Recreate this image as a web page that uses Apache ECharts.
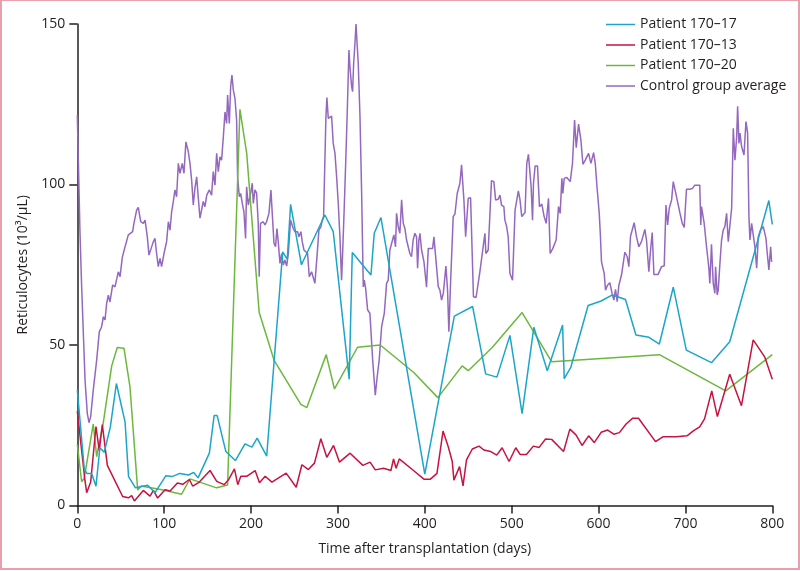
<!DOCTYPE html>
<html>
<head>
<meta charset="utf-8">
<script src="https://cdn.jsdelivr.net/npm/echarts@6/dist/echarts.min.js"></script>
<style>
html,body{margin:0;padding:0;background:#fff;}
#wrap{position:relative;width:800px;height:571px;}
#chart{position:absolute;left:0;top:0;width:800px;height:571px;}
#frame{position:absolute;left:0;top:0;width:800px;height:570px;box-sizing:border-box;border:2px solid #e8a0ae;border-top-width:1px;pointer-events:none;}
</style>
</head>
<body>
<div id="wrap"><div id="chart"></div><div id="frame"></div></div>
<script>
// ---- data ----
const seriesNames = ['Patient 170\u201317', 'Patient 170\u201313', 'Patient 170\u201320', 'Control group average'];
const xTicks = [0, 100, 200, 300, 400, 500, 600, 700, 800];
const yTicks = [0, 50, 100, 150];

const patient17 = [[0,36],[8,11.4],[11,10],[16.5,10],[21.5,6],[26,18],[31,16.6],[38,24.4],[45,38],[55,26],[59,9],[67,5.5],[81,6.3],[89.5,4],[102,9.3],[109,9],[118,10],[128,9.5],[134,10.3],[139,8.6],[152,16.3],[157.5,28],[161,28],[171,16.8],[182,14],[193,19.2],[201,18.2],[207,21],[218,15.4],[236.4,79],[241.7,76.7],[245.5,93.8],[258,75],[285,90.5],[294.6,85.3],[313,39.3],[316.5,78.8],[338,71.8],[341.8,84.8],[349.5,89.7],[400,9.8],[434,59],[455,62],[470,41],[483,40],[498,53],[512,28.6],[525.5,55.5],[541,42],[558.6,56.2],[560.5,39.5],[568,43],[588,62.3],[603,63.7],[616,65.6],[631,64.2],[643,53.1],[658,52.4],[670,50.3],[686,68],[701,48.4],[730,44.5],[751,51],[796,95],[800,87.6]];

const patient13 = [[0,29.4],[8.8,7.8],[10.8,4],[15.4,7.3],[21.5,24.6],[25.3,17.1],[28.8,25.2],[34.6,12.5],[52.2,2.8],[58.8,2.4],[62.6,3.1],[65.7,1.4],[76,4.7],[83.7,2.9],[87.6,4.7],[92.5,2.3],[101,4.9],[106.8,4.5],[115.2,7],[121.3,6.6],[129,8.1],[132.9,6],[140.5,7.3],[152.8,10.9],[160.5,7.5],[169,6.5],[174,8],[180.9,11.4],[184.7,6.5],[188.2,9.1],[195,9.1],[204.7,10.9],[209.7,7.1],[216.2,9.1],[224,7.3],[240.4,10.1],[252,5.7],[258.5,12.7],[266,11.2],[273,13.2],[280.3,20.8],[287.2,15],[295,18.7],[301.8,13.5],[314,16.3],[328.7,12.5],[337,13.5],[343,11.1],[352.5,11.6],[361,10.9],[364,14.5],[367,11.6],[370.6,14.5],[387,10.9],[399,8.2],[406.5,8.2],[414,10],[421,23.2],[427,18.3],[431.6,13.7],[433.5,7.9],[440,12.1],[444,6.1],[448,14.2],[454.7,17.6],[462.4,18.5],[468,17.3],[476,16.8],[482.8,15.7],[489,18],[497,13.7],[504.7,18],[509.7,15.9],[517,15.9],[525,18.5],[531.6,18.1],[539,20.7],[546,20.6],[559.7,16.8],[567,23.8],[574,22],[581,18.7],[588.6,21.7],[595,19.6],[603,22.8],[610.5,23.5],[617.5,22.2],[624,22.7],[631.7,25.4],[639.4,27.2],[646,27.2],[665.6,19.9],[674,21.4],[689.5,21.4],[701.8,21.7],[709.5,23.3],[716.4,24.5],[722,27],[730.3,35.7],[736.8,27.7],[751,40.9],[764.5,31.1],[778,51.6],[791.4,46.2],[800,39.3]];

const patient20 = [[0,19],[5,7.4],[8,8.5],[18.4,25.4],[22.3,15.2],[30,26],[39.6,43.5],[46,49.2],[53.7,49],[60.6,37],[69.5,4.8],[73.5,6.1],[99,4.8],[120,3.5],[129.7,8.3],[160.4,5.5],[173,6.4],[187.2,123.4],[195,109.7],[209.3,60.2],[226.6,45.2],[257.3,31.5],[264.2,30.5],[286.5,47],[296,36.3],[322.6,49.3],[348.7,50],[387,41.5],[415,33.6],[443,43.5],[450,42],[477.6,49.2],[512,60.1],[546,44.8],[670,47],[746.4,35.7],[800,47]];

const control = [[0,121.6],[1.2,107.6],[3.1,84.9],[5,68.2],[8.9,39.1],[11.5,28.7],[13.5,25.8],[15.4,27.7],[18.4,36],[22.3,45.3],[25.3,54.1],[28,55.7],[30,58.8],[31.9,57.8],[33.8,63],[35.7,65.5],[37.6,63.4],[40.7,68.7],[43.4,68.1],[47.2,72.8],[49.2,71.3],[51.8,77.3],[54,79.6],[56,79.6],[58.7,84.3],[60.6,83.7],[63.7,85.3],[65.2,87.9],[68.3,92],[70.2,92.9],[73,88.4],[76,87.9],[78,88.9],[80.6,83.7],[82.5,78],[84.8,78.5],[87.5,82.2],[89.4,83.2],[91.3,78.5],[93.2,74.4],[95.2,77],[97,74.4],[99.8,78.5],[102.8,82.2],[104.8,88.4],[106.7,85.8],[108.6,91.5],[110.5,94.7],[112.4,98.3],[114.3,96.2],[116.3,106.6],[118.2,103.5],[120.8,106.6],[122.8,103.5],[125,113.3],[127.8,110.2],[129.7,106.6],[131.6,101.4],[133.5,93.6],[135.4,98.8],[137.4,102.4],[139.3,95.7],[141.2,89.5],[143,90],[145,94.7],[147,93.1],[149,96.7],[152,98.3],[154.6,96.7],[156.5,104],[158.5,99.8],[160.4,109.7],[162.3,104],[164.2,108.6],[166.1,107.6],[168.1,114.8],[170,122.6],[171.9,119],[173,127.9],[175,119],[176.5,130.4],[178,134.1],[179.6,129.4],[181.5,126.8],[183.4,120],[184.5,102.4],[186.5,96.2],[188,97.2],[190.3,93.6],[191.8,91.5],[193.7,83.2],[194.9,99.3],[196.8,93.6],[199.9,97.8],[201.4,100.4],[202.6,94.1],[204.5,98.3],[206.4,97.3],[208.3,87.9],[209.4,71.3],[210.9,87.9],[214,88.4],[216,87.4],[217.9,88.4],[220.6,91],[222.9,98.3],[224.4,91],[226.4,81.7],[228.2,80.6],[229.8,86.3],[231.3,82.2],[233.3,75.4],[235.2,78.5],[237.1,74.9],[239,76.5],[241,74.6],[242.9,78.5],[245.5,88.9],[248.6,86.3],[250.5,85.3],[253.6,85.3],[255.1,83.7],[257.4,85.3],[258.9,82.2],[260.9,79.6],[262.8,80.1],[265.1,78.5],[267,71.3],[269.7,72.8],[271.6,72.8],[273.5,69.2],[274.7,73.4],[276.6,80.1],[278.1,85.8],[280.4,86.8],[282,88.9],[283.5,90],[285,107.6],[286.2,121.1],[287.3,127.1],[288.9,120.6],[290.4,121.1],[292.7,121.3],[294.6,112.8],[296.6,109.7],[298.5,102.4],[300.4,94.1],[302.3,83.7],[304.2,70.2],[305.4,78.5],[307.3,93.1],[308.8,105.5],[310.7,122.2],[312.7,141.9],[313.8,136.7],[315.8,130.5],[316.9,128.9],[318.1,137.7],[319.6,144],[320.8,150],[322.3,149.7],[323.4,137.7],[325.4,121.1],[327.3,97.3],[329.2,68.1],[330.3,70.2],[331.9,67.6],[334.2,60.9],[336.8,59.9],[340,45.3],[343,34.4],[345.2,40.1],[347.5,45.3],[350.3,55.7],[353.4,59.9],[356,69.2],[357.9,70.2],[359.8,79.6],[361.8,79.6],[364.4,84.3],[366.3,80.6],[367.5,91],[369.4,86.9],[371.3,84.8],[373.3,95.2],[375.2,87.9],[377.1,86.3],[379,82.7],[380.9,82.2],[382.8,78.5],[384.7,77.5],[386.6,82.7],[388.6,84.8],[390.5,83.7],[391.7,73.9],[393.2,82.7],[394.4,84.8],[396.3,79.6],[399,76],[402,68],[404,80.1],[409,80.1],[410.5,83.7],[412.8,83.7],[415.5,68.2],[417.4,67.1],[419.3,64],[421.3,66.1],[424.3,74.6],[426.2,67.1],[427.7,54.1],[429.7,69.7],[432.7,90],[434.7,90.8],[437.3,97.2],[440.4,100.4],[442.3,106.1],[445,95.2],[447,83.7],[450,95.7],[452.7,95.9],[456,65],[459,64.8],[463.4,72.8],[465.3,72.3],[469.2,84.8],[470.3,78.5],[473,79.6],[476.8,101.2],[479.5,100.9],[481.5,95.2],[484.5,95.4],[486.5,96.7],[488.3,93.6],[491,93.1],[492.2,88.9],[494.2,86.9],[496,83.7],[498,72.3],[501,70.2],[503.9,92],[505.8,91.5],[507.7,98],[509.6,95.2],[511.6,90],[513.5,90.5],[515.4,91.3],[517.4,106.6],[519.3,109.4],[521.2,109.2],[522.4,99.3],[524,88.9],[525.1,100.4],[527,105.8],[529.7,105.8],[532,93.1],[534.7,93.9],[537.4,90],[539.7,87.9],[542.4,95.7],[544.3,78.5],[547.4,80.1],[551.2,82.7],[553.9,93.1],[555.8,91],[557.8,101.9],[558.9,97.2],[560.5,101.9],[563.5,102.2],[567.4,100.9],[570,106.6],[572.4,120.1],[574.3,111.5],[577,118.8],[579.7,113.8],[582,106.3],[584.7,107.6],[588.5,109.7],[591.2,106.6],[594.3,109.9],[596.2,106.6],[598.2,99.3],[600.8,91],[602,84.8],[603.4,75.9],[606.5,72.3],[608,67.1],[610.3,68.6],[613,69.4],[615.7,65.9],[617.6,64],[619.5,67.3],[621.5,63.5],[623.4,68.6],[626.4,71.8],[628.4,75.4],[630.3,78.9],[633,77.5],[634.9,74.4],[636.8,83.9],[638.7,84.3],[641,88.1],[643.7,83.7],[646.4,80.6],[649.4,82.2],[651.4,82.7],[653.3,86],[655.2,82.7],[657.9,72.8],[660.2,80.6],[661.8,85],[663.7,72],[668.6,72],[672.5,74.4],[675.6,74.7],[677.6,93.6],[679.5,87.4],[681.4,92.6],[684.1,95.2],[686,100.9],[689.9,96],[693.6,91.2],[696.4,87.9],[698.6,86.6],[701.2,98.5],[705.1,98.5],[708.2,98.8],[710.8,99.8],[716.5,99.8],[717.7,87.4],[718.5,93.1],[721.6,87.9],[724.3,80.6],[727,73.9],[728.1,69.2],[730,81.4],[732,69.2],[733.9,66.1],[734.7,74.4],[736.6,65.6],[737.8,67.1],[739.7,75.4],[741.6,82.7],[743.5,85.8],[745.4,86.9],[747.4,91],[749.3,82.2],[751.2,81.7],[753.2,92.6],[755.1,117.5],[757,107.6],[759,114.9],[760.1,124.4],[761.6,112.8],[762.8,116],[764.7,111.8],[767.4,109.2],[769.7,119.6],[771.6,116],[773.1,90],[774.3,82.7],[776.2,87.9],[778.1,87.9],[780,80.6],[782,73.9],[783.9,83.7],[786.5,85.8],[789.6,86.9],[791.5,86.9],[792.7,83.2],[794.2,78.5],[796.1,73.4],[798.1,80.6],[799.2,75.9]];

// ---- chart ----
const FONT = '"Open Sans", "Noto Sans", sans-serif';
const TXT = '#231f20';
const colors = {
  p17: '#1ba5c9',
  p13: '#c8123f',
  p20: '#6cb83c',
  ctrl: '#9468be'
};
const chart = echarts.init(document.getElementById('chart'), null, {renderer: 'canvas'});
function lineSeries(name, data, color, z) {
  return {
    name: name, type: 'line', data: data, showSymbol: false, symbol: 'none',
    lineStyle: {color: color, width: 1.5}, itemStyle: {color: color},
    z: z, animation: false, clip: true
  };
}
chart.setOption({
  animation: false,
  textStyle: {fontFamily: FONT},
  grid: {left: 77.3, right: 27.7, top: 24, bottom: 65.5, containLabel: false},
  legend: {
    orient: 'vertical', left: 606, top: 16, padding: 0,
    data: seriesNames,
    icon: 'rect', itemWidth: 29, itemHeight: 1.5, itemGap: 3.5,
    textStyle: {fontFamily: FONT, fontSize: 14, color: TXT, lineHeight: 17}
  },
  xAxis: {
    type: 'value', min: 0, max: 800, interval: 100,
    name: 'Time after transplantation (days)', nameLocation: 'middle', nameGap: 37,
    nameTextStyle: {fontFamily: FONT, fontSize: 14, color: TXT},
    axisLine: {show: true, lineStyle: {color: '#231f20', width: 1.5}},
    axisTick: {show: true, length: 8, lineStyle: {color: '#231f20', width: 1.5}},
    axisLabel: {fontFamily: FONT, fontSize: 14, color: TXT, margin: 12,
      customValues: xTicks},
    splitLine: {show: false}
  },
  yAxis: {
    type: 'value', min: 0, max: 150, interval: 50,
    name: 'Reticulocytes (10\u00b3/\u03bcL)', nameLocation: 'middle', nameGap: 46,
    nameTextStyle: {fontFamily: FONT, fontSize: 14, color: TXT},
    axisLine: {show: true, lineStyle: {color: '#231f20', width: 1.5}},
    axisTick: {show: true, length: 8, lineStyle: {color: '#231f20', width: 1.5}},
    axisLabel: {fontFamily: FONT, fontSize: 14, color: TXT, margin: 12,
      customValues: yTicks},
    splitLine: {show: false}
  },
  series: [
    lineSeries(seriesNames[3], control, colors.ctrl, 1),
    lineSeries(seriesNames[2], patient20, colors.p20, 2),
    lineSeries(seriesNames[1], patient13, colors.p13, 3),
    lineSeries(seriesNames[0], patient17, colors.p17, 4)
  ]
});
</script>
</body>
</html>
